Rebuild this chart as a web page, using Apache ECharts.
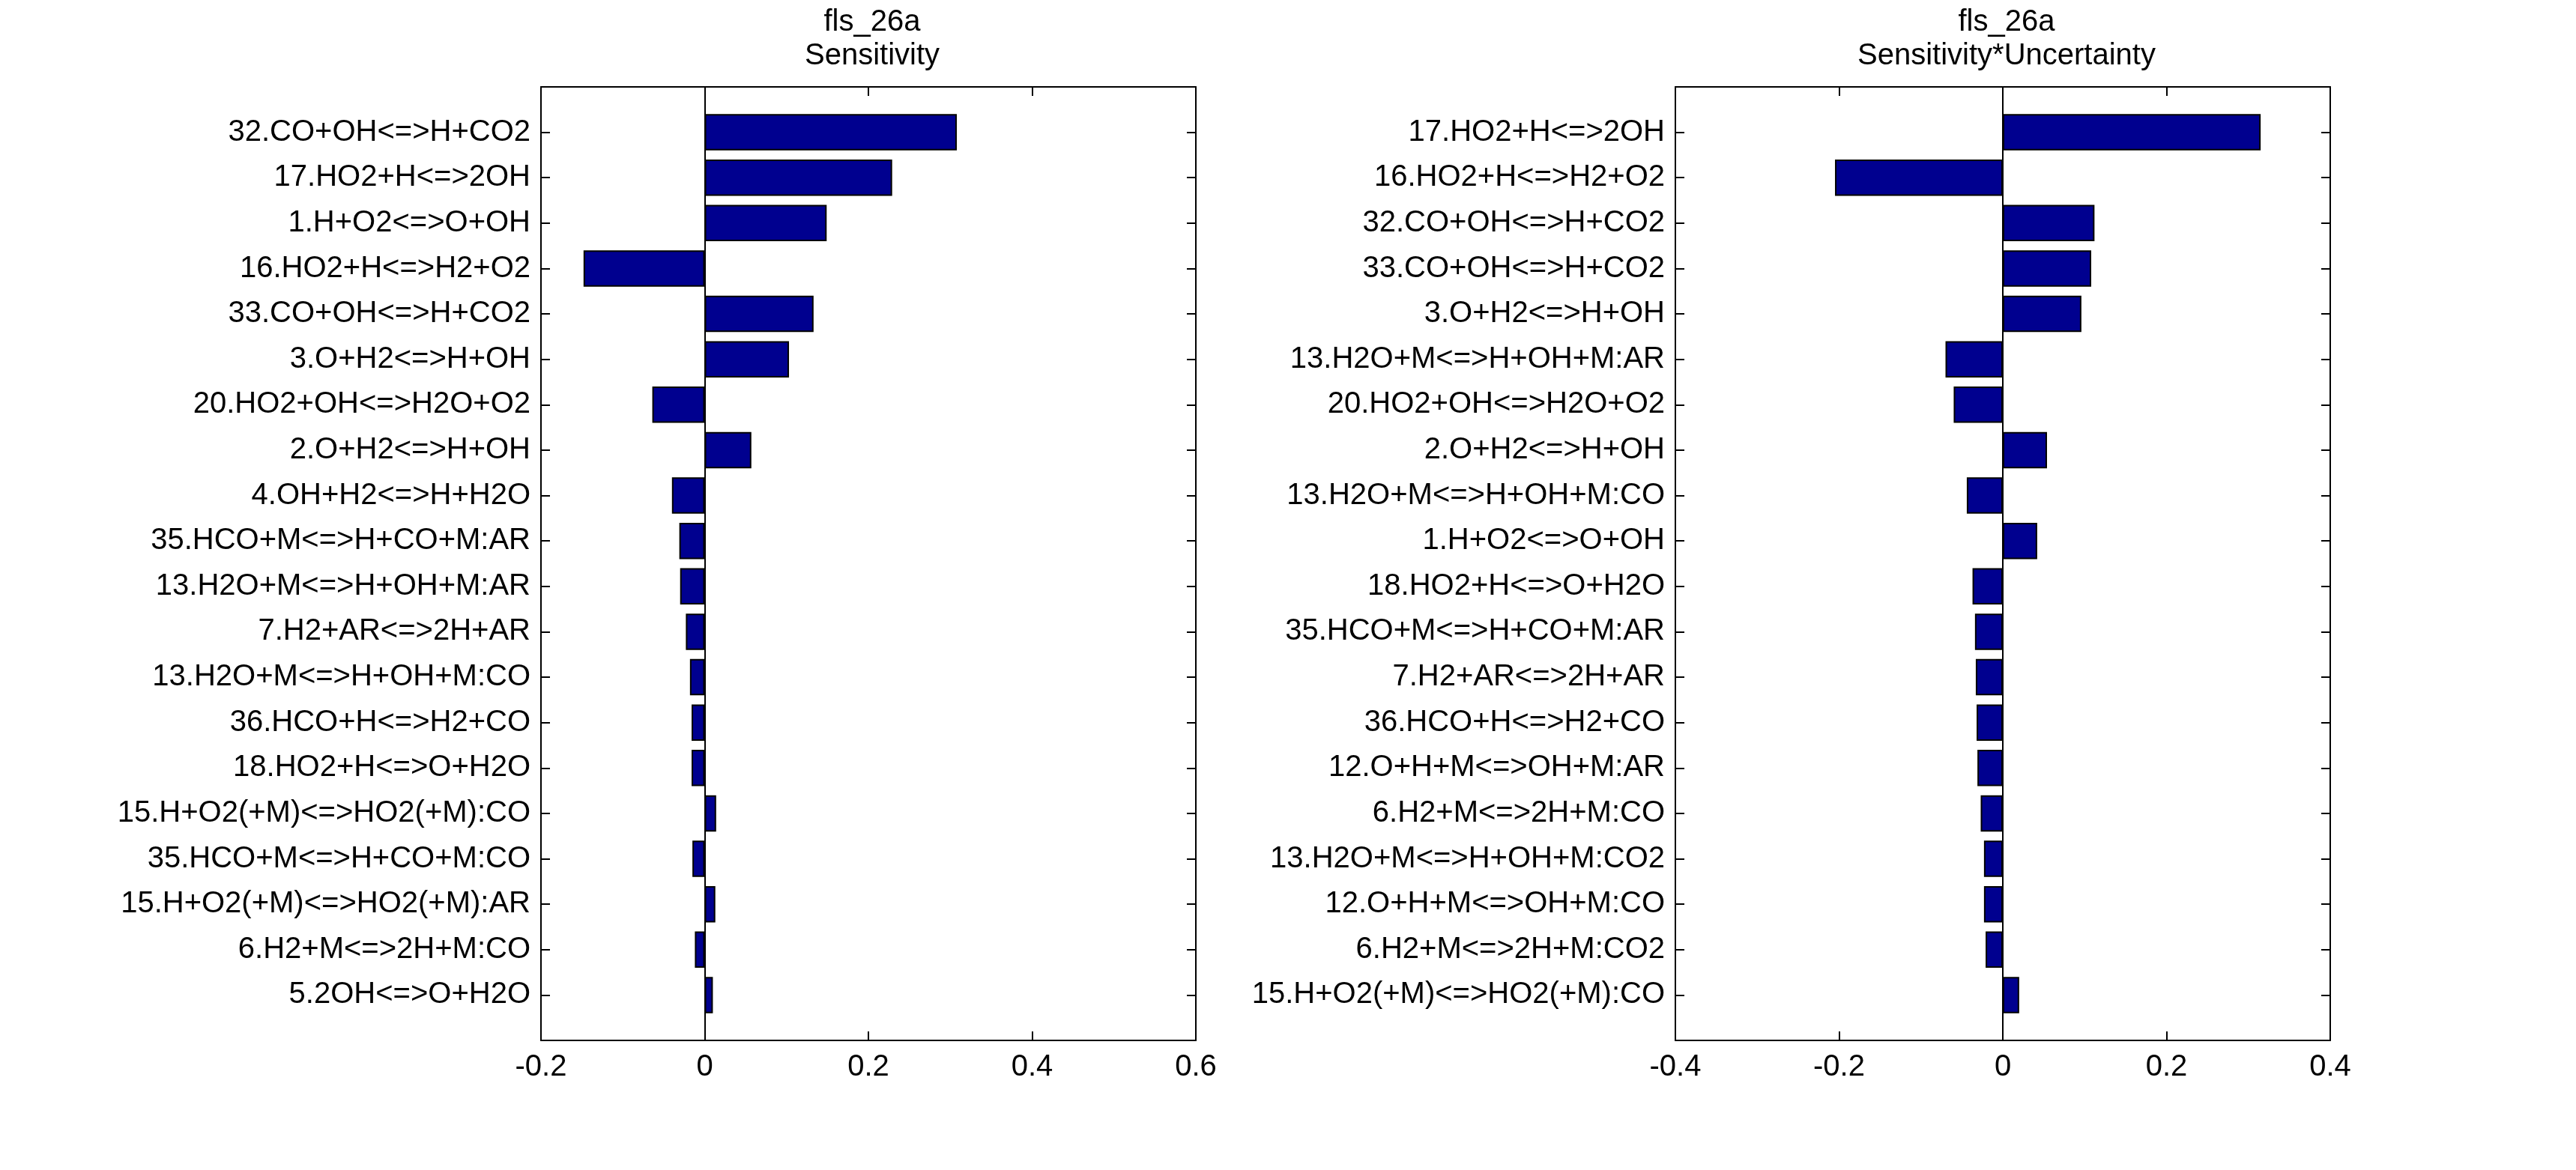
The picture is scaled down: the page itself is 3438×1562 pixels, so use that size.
<!DOCTYPE html>
<html>
<head>
<meta charset="utf-8">
<script src="https://cdn.jsdelivr.net/npm/echarts@6/dist/echarts.min.js"></script>
<style>
html,body{margin:0;padding:0;background:#fff;}
#chart{width:3438px;height:1562px;}
</style>
</head>
<body>
<div id="chart"></div>
<script>
// ---- Data ----
const titleMain = 'fls_26a';
const titleLeft = 'Sensitivity';
const titleRight = 'Sensitivity*Uncertainty';

const catsS = [
  '32.CO+OH<=>H+CO2', '17.HO2+H<=>2OH', '1.H+O2<=>O+OH', '16.HO2+H<=>H2+O2',
  '33.CO+OH<=>H+CO2', '3.O+H2<=>H+OH', '20.HO2+OH<=>H2O+O2', '2.O+H2<=>H+OH',
  '4.OH+H2<=>H+H2O', '35.HCO+M<=>H+CO+M:AR', '13.H2O+M<=>H+OH+M:AR', '7.H2+AR<=>2H+AR',
  '13.H2O+M<=>H+OH+M:CO', '36.HCO+H<=>H2+CO', '18.HO2+H<=>O+H2O', '15.H+O2(+M)<=>HO2(+M):CO',
  '35.HCO+M<=>H+CO+M:CO', '15.H+O2(+M)<=>HO2(+M):AR', '6.H2+M<=>2H+M:CO', '5.2OH<=>O+H2O'
];
const valsS = [
  0.308, 0.229, 0.149, -0.148, 0.133, 0.103, -0.064, 0.057, -0.040, -0.031,
  -0.030, -0.023, -0.018, -0.016, -0.016, 0.014, -0.015, 0.013, -0.012, 0.010
];

const catsU = [
  '17.HO2+H<=>2OH', '16.HO2+H<=>H2+O2', '32.CO+OH<=>H+CO2', '33.CO+OH<=>H+CO2',
  '3.O+H2<=>H+OH', '13.H2O+M<=>H+OH+M:AR', '20.HO2+OH<=>H2O+O2', '2.O+H2<=>H+OH',
  '13.H2O+M<=>H+OH+M:CO', '1.H+O2<=>O+OH', '18.HO2+H<=>O+H2O', '35.HCO+M<=>H+CO+M:AR',
  '7.H2+AR<=>2H+AR', '36.HCO+H<=>H2+CO', '12.O+H+M<=>OH+M:AR', '6.H2+M<=>2H+M:CO',
  '13.H2O+M<=>H+OH+M:CO2', '12.O+H+M<=>OH+M:CO', '6.H2+M<=>2H+M:CO2', '15.H+O2(+M)<=>HO2(+M):CO'
];
const valsU = [
  0.315, -0.205, 0.112, 0.108, 0.096, -0.070, -0.060, 0.054, -0.044, 0.042,
  -0.037, -0.034, -0.033, -0.032, -0.031, -0.027, -0.023, -0.023, -0.021, 0.020
];

const xRangeS = { min: -0.2, max: 0.6, interval: 0.2 };
const xRangeU = { min: -0.4, max: 0.4, interval: 0.2 };

// ---- Build ----
const FONT = 'Liberation Sans, Arial, Helvetica, sans-serif';
const pad = arr => [''].concat(arr, ['']);
const padVals = arr => ['-'].concat(arr, ['-']);

const grids = [
  { left: 722, top: 116, width: 874, height: 1273 },
  { left: 2236, top: 116, width: 874, height: 1273 }
];

function fmtNum(v) {
  const r = Math.round(v * 10) / 10;
  return r === 0 ? '0' : String(r);
}

function xAxes(gi, range) {
  const common = {
    type: 'value', gridIndex: gi, min: range.min, max: range.max, interval: range.interval,
    splitLine: { show: false },
    axisLine: { show: true, onZero: false, lineStyle: { color: '#000', width: 2 } },
    axisTick: { show: true, inside: true, length: 12, lineStyle: { color: '#000', width: 2 } }
  };
  return [
    Object.assign({}, common, {
      position: 'bottom',
      axisLabel: { show: true, color: '#000', fontSize: 40, fontFamily: FONT, margin: 16, formatter: fmtNum }
    }),
    Object.assign({}, common, {
      position: 'top',
      axisLabel: { show: false }
    })
  ];
}

function yAxes(gi, cats) {
  const common = {
    type: 'category', gridIndex: gi, data: pad(cats), inverse: true, boundaryGap: false,
    splitLine: { show: false },
    axisLine: { show: true, onZero: false, lineStyle: { color: '#000', width: 2 } },
    axisTick: { show: true, inside: true, length: 12, interval: 0, lineStyle: { color: '#000', width: 2 } }
  };
  return [
    Object.assign({}, common, {
      position: 'left',
      axisLabel: { show: true, interval: 0, color: '#000', fontSize: 40, fontFamily: FONT, margin: 14 }
    }),
    Object.assign({}, common, {
      position: 'right',
      axisLabel: { show: false }
    })
  ];
}

function barSeries(xi, yi, vals) {
  return {
    type: 'bar', xAxisIndex: xi, yAxisIndex: yi,
    data: padVals(vals),
    barCategoryGap: '20%',
    itemStyle: { color: '#00008F', borderColor: '#000', borderWidth: 2 },
    silent: true,
    markLine: {
      silent: true, symbol: ['none', 'none'],
      label: { show: false },
      lineStyle: { color: '#000', width: 2, type: 'solid' },
      data: [{ xAxis: 0 }],
      animation: false
    }
  };
}

const option = {
  backgroundColor: '#fff',
  animation: false,
  title: [
    {
      text: titleMain + '\n' + titleLeft,
      left: grids[0].left + grids[0].width / 2, top: 2, textAlign: 'center',
      textStyle: { color: '#000', fontSize: 40, fontWeight: 'normal', fontFamily: FONT, lineHeight: 45 }
    },
    {
      text: titleMain + '\n' + titleRight,
      left: grids[1].left + grids[1].width / 2, top: 2, textAlign: 'center',
      textStyle: { color: '#000', fontSize: 40, fontWeight: 'normal', fontFamily: FONT, lineHeight: 45 }
    }
  ],
  grid: grids,
  xAxis: xAxes(0, xRangeS).concat(xAxes(1, xRangeU)),
  yAxis: yAxes(0, catsS).concat(yAxes(1, catsU)),
  series: [
    barSeries(0, 0, valsS),
    barSeries(2, 2, valsU)
  ]
};

const chart = echarts.init(document.getElementById('chart'), null, { renderer: 'canvas' });
chart.setOption(option);
</script>
</body>
</html>
